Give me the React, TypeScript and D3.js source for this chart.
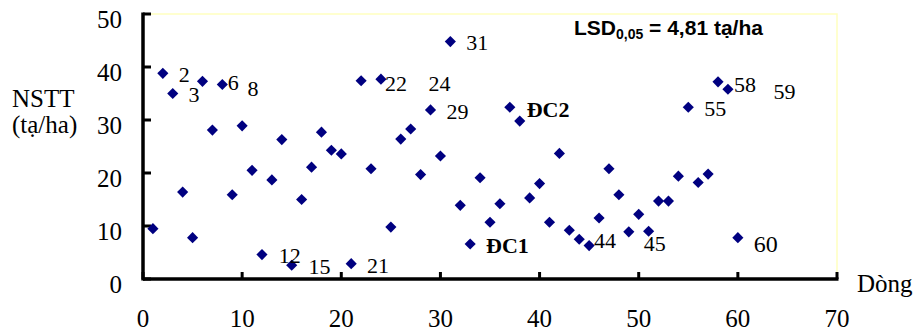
import React from "react";
import * as d3 from "d3";

// Năng suất thực thu (tạ/ha) của 60 dòng
const lines = d3.range(1, 61);
const yields = [
  9.5, 38.8, 35.0, 16.4, 7.8, 37.3, 28.1, 36.7, 15.9, 28.9,
  20.5, 4.6, 18.7, 26.3, 2.6, 15.0, 21.1, 27.7, 24.3, 23.6,
  2.9, 37.4, 20.8, 37.7, 9.8, 26.4, 28.3, 19.7, 31.9, 23.2,
  44.8, 13.9, 6.6, 19.1, 10.7, 14.2, 32.4, 29.8, 15.3, 18.0,
  10.7, 23.7, 9.2, 7.5, 6.3, 11.5, 20.8, 15.9, 8.9, 12.2,
  9.0, 14.7, 14.7, 19.4, 32.4, 18.2, 19.8, 37.2, 35.8, 7.8,
];

const xTicks = [0, 10, 20, 30, 40, 50, 60, 70];
const yTicks = [0, 10, 20, 30, 40, 50];

// text boxes placed on the chart (anchor in data units)
const noteTexts = ["2", "3", "6", "8", "12", "15", "21", "22", "24", "29", "31", "ĐC2", "ĐC1", "44", "45", "55", "58", "59", "60"];
const noteX = [3.6, 4.6, 8.55, 10.55, 13.7, 16.7, 22.6, 24.4, 28.8, 30.6, 32.6, 38.7, 34.6, 45.5, 50.5, 56.6, 59.6, 63.6, 61.6];
const noteY = [38.7, 34.9, 37.2, 36.0, 4.5, 2.5, 2.6, 37.0, 37.0, 31.7, 44.7, 32.1, 6.4, 7.4, 6.8, 32.3, 36.8, 35.5, 6.8];

const width = 919;
const height = 334;
const margin = { left: 143, right: 82, top: 14, bottom: 55 };

export default function App() {
  const x = d3.scaleLinear().domain([0, 70]).range([margin.left, width - margin.right]);
  const y = d3.scaleLinear().domain([0, 50]).range([height - margin.bottom, margin.top]);

  const diamond = d3.symbol().type(d3.symbolSquare).size(62)();
  const serif = "'Liberation Serif', 'Times New Roman', serif";

  return (
    <div style={{ position: "absolute", left: 0, top: 0 }}>
      <svg width={width} height={height} style={{ display: "block" }}>
        {/* plot area frame */}
        <polyline
          points={`${x(0)},${y(50)} ${x(70)},${y(50)} ${x(70)},${y(0)}`}
          fill="none"
          stroke="#ffffc0"
          strokeWidth={1.5}
        />

        {/* axes */}
        <line x1={x(0)} x2={x(70) + 1.5} y1={y(0)} y2={y(0)} stroke="#000" strokeWidth={3.5} />
        <line x1={x(0)} x2={x(0)} y1={y(50) - 1.5} y2={y(0) + 1.5} stroke="#000" strokeWidth={3.5} />
        {xTicks.map((t) => (
          <g key={"xt" + t}>
            <line x1={x(t)} x2={x(t)} y1={y(0)} y2={y(0) - 7} stroke="#000" strokeWidth={3} />
            <text x={x(t)} y={327} textAnchor="middle" fontFamily={serif} fontSize={25}>
              {t}
            </text>
          </g>
        ))}
        {yTicks.map((t) => (
          <g key={"yt" + t}>
            <line x1={x(0)} x2={x(0) + 8} y1={y(t)} y2={y(t)} stroke="#000" strokeWidth={3} />
            <text x={122} y={y(t) + 14} textAnchor="end" fontFamily={serif} fontSize={25}>
              {t}
            </text>
          </g>
        ))}

        {/* axis titles */}
        <text x={12} y={107} fontFamily={serif} fontSize={25}>NSTT</text>
        <text x={12} y={133} fontFamily={serif} fontSize={25}>(tạ/ha)</text>
        <text x={857} y={292} fontFamily={serif} fontSize={25}>Dòng</text>

        {/* points */}
        {lines.map((d, i) => (
          <path
            key={"p" + d}
            d={diamond}
            transform={`translate(${x(d)},${y(yields[i])}) rotate(45)`}
            fill="#000080"
          />
        ))}

        {/* labels */}
        {noteTexts.map((t, i) => (
          <text
            key={"n" + i}
            x={x(noteX[i])}
            y={y(noteY[i])}
            dy="0.36em"
            fontFamily={serif}
            fontSize={t === "60" ? 24 : 22}
            fontWeight={t.startsWith("ĐC") ? "bold" : "normal"}
          >
            {t}
          </text>
        ))}

        {/* LSD */}
        <text x={574} y={35} fontFamily="'Liberation Sans', Arial, sans-serif" fontWeight="bold" fontSize={21}>
          LSD
          <tspan fontSize={14} dy={4}>0,05</tspan>
          <tspan dy={-4}> = 4,81 tạ/ha</tspan>
        </text>
      </svg>
    </div>
  );
}
